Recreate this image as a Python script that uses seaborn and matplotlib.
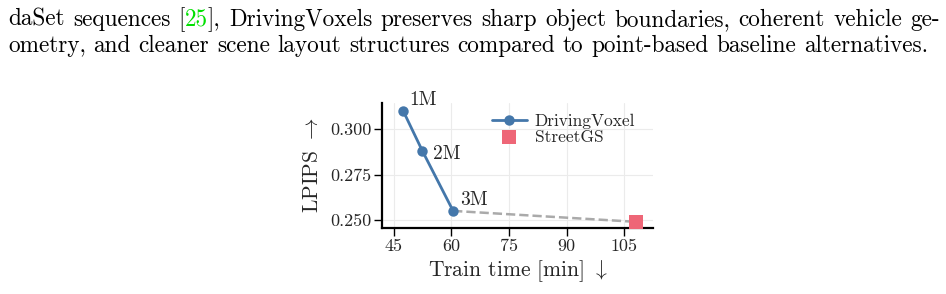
import matplotlib

matplotlib.use("Agg")
import matplotlib.pyplot as plt
import pandas as pd
import seaborn as sns

# chart data
voxel_time = [47.5, 52.5, 60.5]
voxel_lpips = [0.310, 0.288, 0.255]
voxel_budget = ["1M", "2M", "3M"]
street_time = [108.0]
street_lpips = [0.249]
x_ticks = [45, 60, 75, 90, 105]
y_ticks = [0.250, 0.275, 0.300]
y_tick_labels = ["0.250", "0.275", "0.300"]

# paragraph above the figure
caption_lines = [
    "daSet sequences [25], DrivingVoxels preserves sharp object boundaries, coherent vehicle ge-",
    "ometry, and cleaner scene layout structures compared to point-based baseline alternatives.",
]
cite_number = "25"

W, H, DPI = 946, 294, 100
BLUE = "#4477AA"
RED = "#EE6677"
GREY = "#AAAAAA"
CITE_GREEN = "#00E000"


def setup_plot_style() -> None:
    sns.set_theme(style="whitegrid")
    plt.rcParams["font.family"] = ["cmr10", "DejaVu Serif"]
    plt.rcParams["mathtext.fontset"] = "cm"
    plt.rcParams["axes.unicode_minus"] = False
    plt.rcParams["axes.formatter.use_mathtext"] = True


def word_pieces(word):
    tag = f"[{cite_number}]"
    if tag in word:
        a, b = word.split(cite_number)
        return [(a, "black"), (cite_number, CITE_GREEN), (b, "black")]
    return [(word, "black")]


def measure(fig, renderer, text, size):
    t = fig.text(0, 0, text, fontsize=size)
    w = t.get_window_extent(renderer).width
    t.remove()
    return w


def draw_line(fig, renderer, line, x0, x1, y, size, justify):
    words = [word_pieces(w) for w in line.split(" ")]
    widths = [[measure(fig, renderer, s, size) for s, _ in p] for p in words]
    total = sum(sum(w) for w in widths)
    space = size * DPI / 72 * 0.333
    if justify:
        space = (x1 - x0 - total) / (len(words) - 1)
    x = x0
    for pieces, ws in zip(words, widths):
        for (s, c), w in zip(pieces, ws):
            fig.text(x / W, 1 - y / H, s, fontsize=size, color=c, va="baseline")
            x += w
        x += space


setup_plot_style()
fig = plt.figure(figsize=(W / DPI, H / DPI), dpi=DPI)
renderer = fig.canvas.get_renderer()

# fit the font size so the last (unjustified) line spans the same width
base = 14
natural = sum(measure(fig, renderer, w, base) for w in caption_lines[1].split(" "))
natural += base * DPI / 72 * 0.333 * (len(caption_lines[1].split(" ")) - 1)
size = base * (928 - 8) / natural
draw_line(fig, renderer, caption_lines[0], 8, 940, 26, size, True)
draw_line(fig, renderer, caption_lines[1], 8, 928, 52, size, False)

ax = fig.add_axes([382 / W, 1 - 228 / H, (653 - 382) / W, (228 - 103) / H])
voxel = pd.DataFrame({"time": voxel_time, "lpips": voxel_lpips, "budget": voxel_budget})
street = pd.DataFrame({"time": street_time, "lpips": street_lpips})
link = pd.DataFrame(
    {"time": [voxel_time[-1], street_time[0]], "lpips": [voxel_lpips[-1], street_lpips[0]]}
)

sns.lineplot(data=link, x="time", y="lpips", color=GREY, linestyle="--", lw=1.8, ax=ax, zorder=2)
sns.lineplot(
    data=voxel, x="time", y="lpips", color=BLUE, marker="o", markersize=7.5,
    markeredgewidth=0, lw=2, label="DrivingVoxel", ax=ax, zorder=3,
)
sns.scatterplot(
    data=street, x="time", y="lpips", color=RED, marker="s", s=95,
    linewidth=0, label="StreetGS", ax=ax, zorder=4, clip_on=False,
)

offsets = {"1M": (6, 6), "2M": (11, -8), "3M": (7, 6)}
for _, row in voxel.iterrows():
    ax.annotate(row["budget"], (row["time"], row["lpips"]), xytext=offsets[row["budget"]],
                textcoords="offset pixels", fontsize=14, va="baseline", ha="left")

ax.set_xlim(42, 112.5)
ax.set_ylim(0.2456, 0.3143)
ax.set_xticks(x_ticks)
ax.set_xticklabels([str(t) for t in x_ticks])
ax.set_yticks(y_ticks)
ax.set_yticklabels(y_tick_labels)
ax.set_xlabel(r"Train time [min] $\downarrow$", fontsize=15.5, labelpad=3)
ax.set_ylabel(r"LPIPS $\rightarrow$", fontsize=15.5, labelpad=6)

ax.set_facecolor("white")
ax.grid(True, color="#EBEBEB", linewidth=0.8)
for side in ["top", "right"]:
    ax.spines[side].set_visible(False)
for side in ["left", "bottom"]:
    ax.spines[side].set_color("black")
    ax.spines[side].set_linewidth(1.6)
ax.tick_params(axis="both", which="major", direction="out", length=5.5, width=1.0,
               color="black", labelsize=13, pad=2, left=True, bottom=True)

ax.legend(loc="upper left", frameon=False, fontsize=12.5, handlelength=2.0,
          handletextpad=0.45, labelspacing=0.0, borderaxespad=0.0, borderpad=0.0,
          bbox_to_anchor=((492 - 382) / 271, (228 - 114) / 125))

fig.savefig("out.png", dpi=DPI, facecolor="white")
plt.close(fig)
